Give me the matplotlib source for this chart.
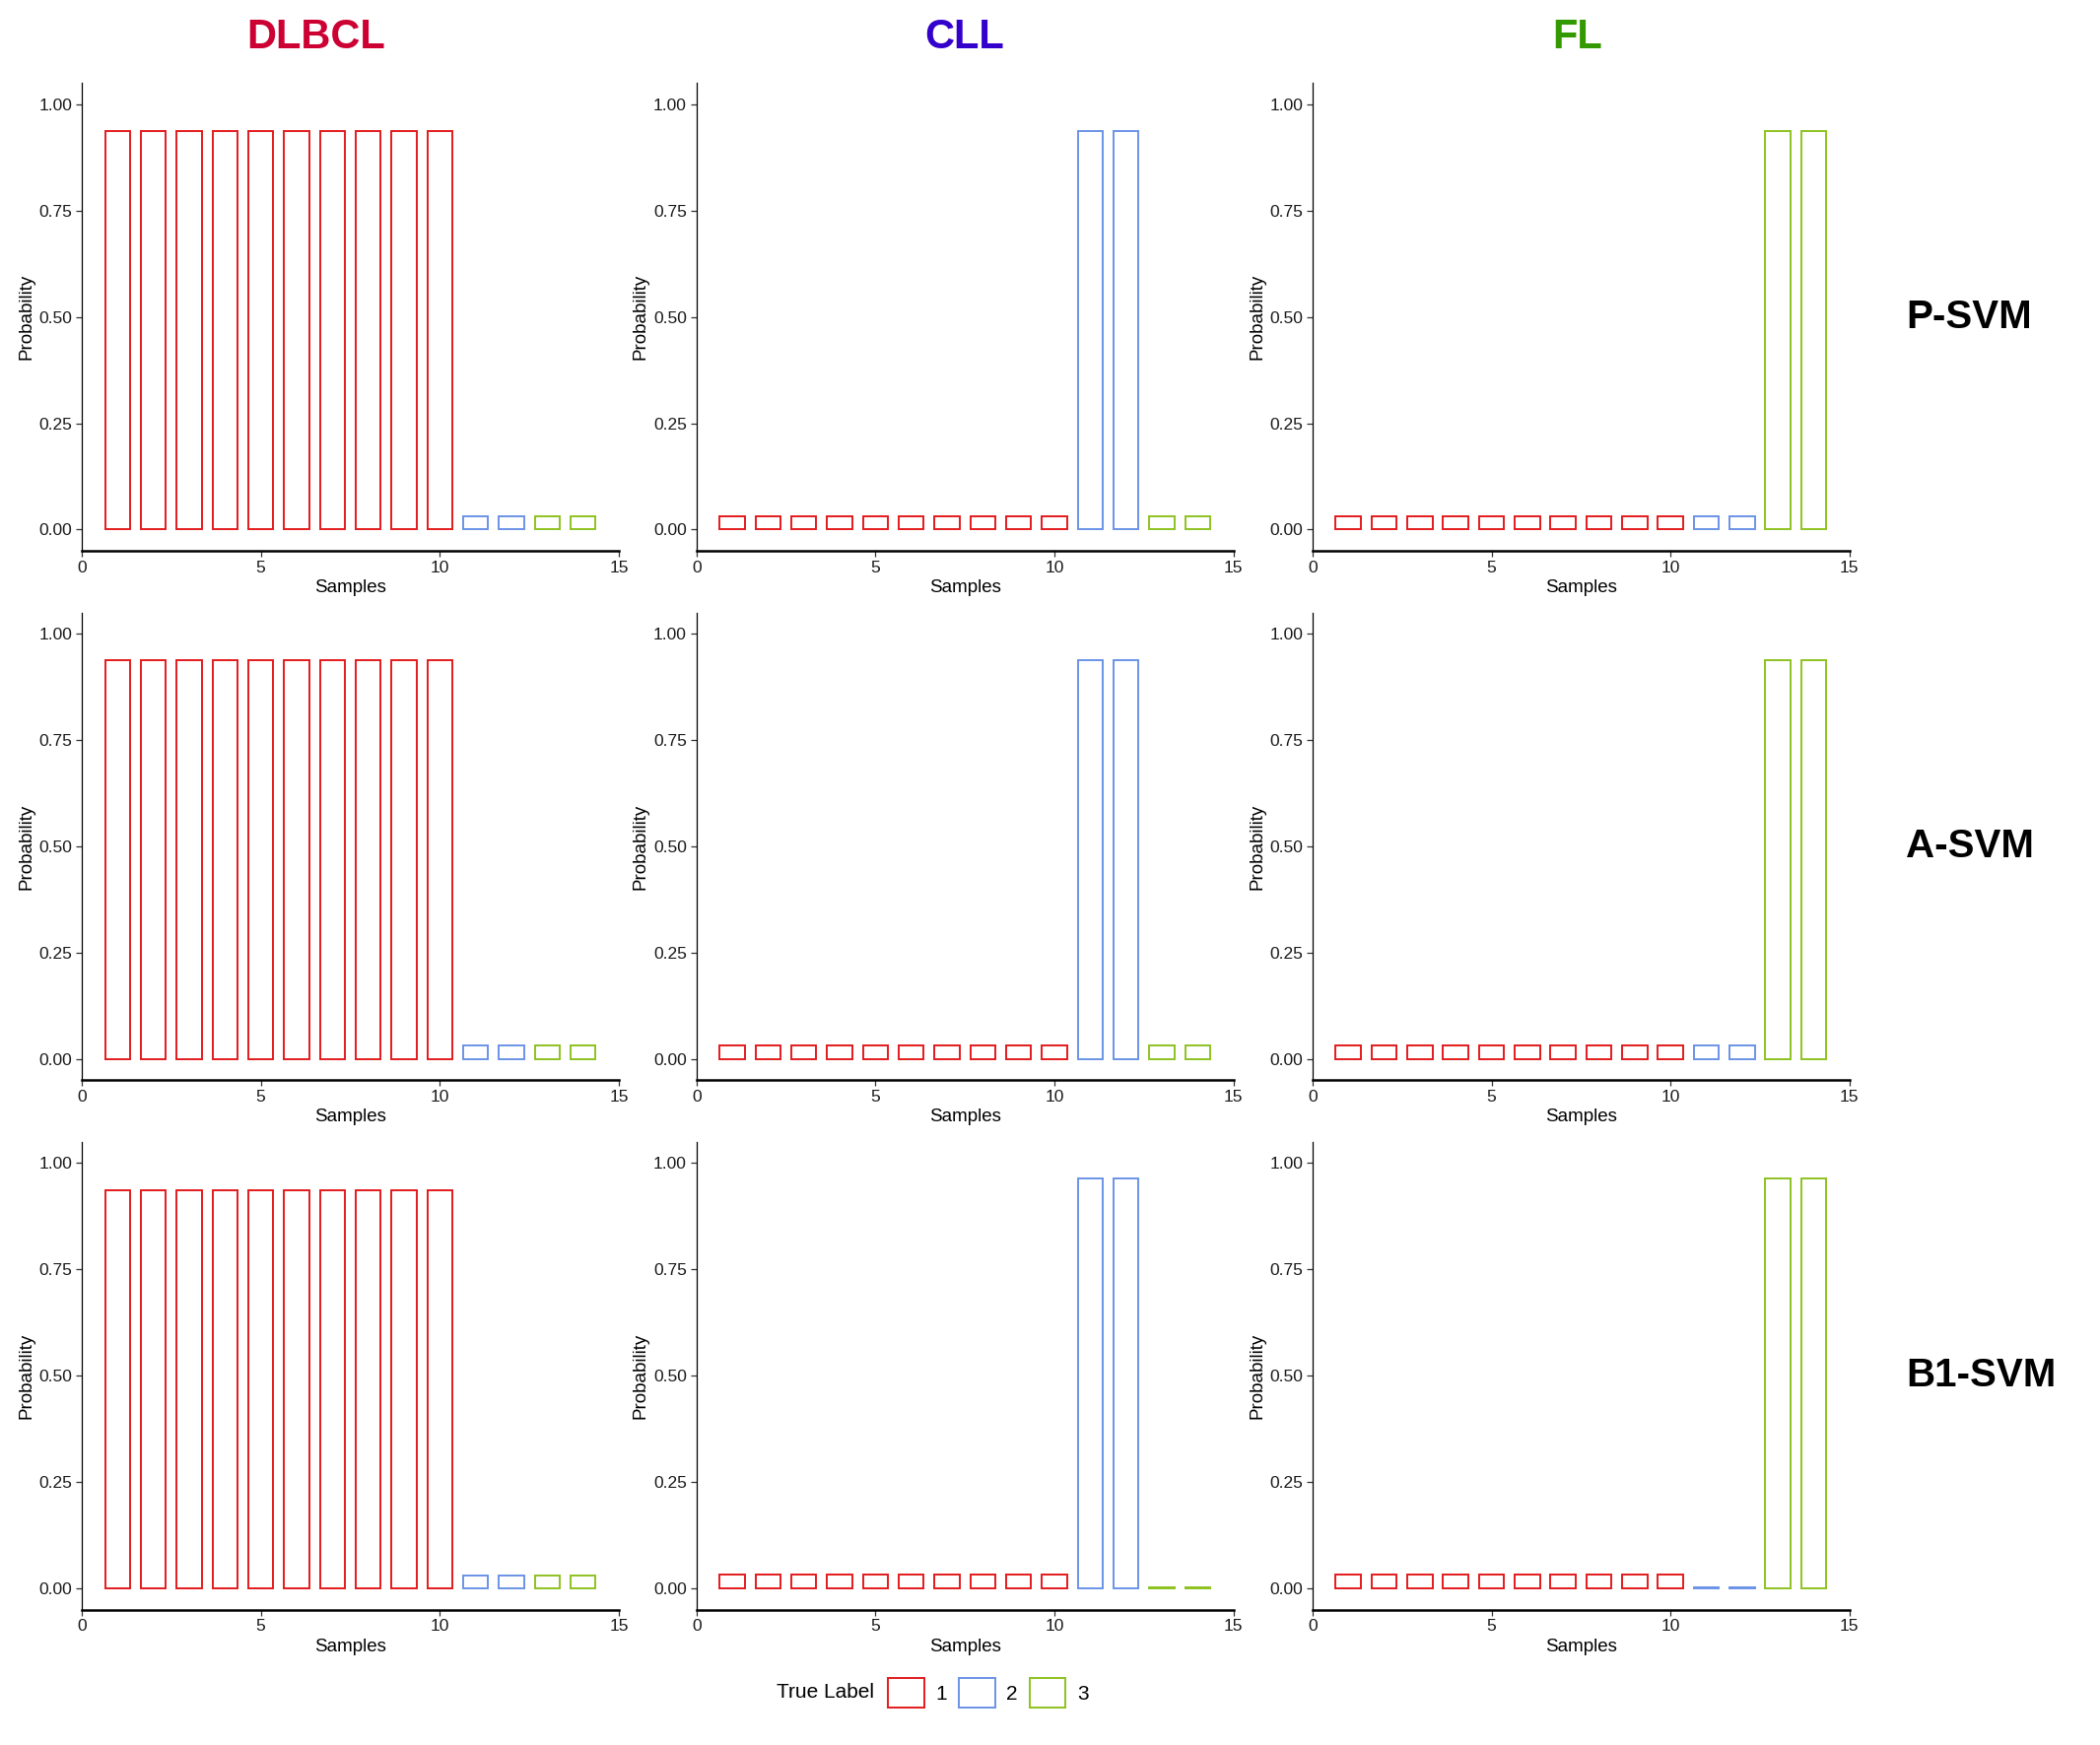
import matplotlib
matplotlib.use("Agg")
import matplotlib.pyplot as plt
from matplotlib.patches import Patch

plt.rcParams['font.family'] = ['Liberation Sans', 'DejaVu Sans']

# ---- data ----
samples = [1, 2, 3, 4, 5, 6, 7, 8, 9, 10, 11, 12, 13, 14]
true_label = [1, 1, 1, 1, 1, 1, 1, 1, 1, 1, 2, 2, 3, 3]
classes = ["DLBCL", "CLL", "FL"]
methods = ["P-SVM", "A-SVM", "B1-SVM"]

psvm_dlbcl = [0.937, 0.937, 0.937, 0.937, 0.937, 0.937, 0.937, 0.937, 0.937, 0.937, 0.031, 0.031, 0.031, 0.031]
psvm_cll = [0.031, 0.031, 0.031, 0.031, 0.031, 0.031, 0.031, 0.031, 0.031, 0.031, 0.937, 0.937, 0.031, 0.031]
psvm_fl = [0.031, 0.031, 0.031, 0.031, 0.031, 0.031, 0.031, 0.031, 0.031, 0.031, 0.031, 0.031, 0.937, 0.937]

asvm_dlbcl = [0.937, 0.937, 0.937, 0.937, 0.937, 0.937, 0.937, 0.937, 0.937, 0.937, 0.031, 0.031, 0.031, 0.031]
asvm_cll = [0.031, 0.031, 0.031, 0.031, 0.031, 0.031, 0.031, 0.031, 0.031, 0.031, 0.937, 0.937, 0.031, 0.031]
asvm_fl = [0.031, 0.031, 0.031, 0.031, 0.031, 0.031, 0.031, 0.031, 0.031, 0.031, 0.031, 0.031, 0.937, 0.937]

b1svm_dlbcl = [0.937, 0.937, 0.937, 0.937, 0.937, 0.937, 0.937, 0.937, 0.937, 0.937, 0.031, 0.031, 0.031, 0.031]
b1svm_cll = [0.032, 0.032, 0.032, 0.032, 0.032, 0.032, 0.032, 0.032, 0.032, 0.032, 0.965, 0.965, 0.002, 0.002]
b1svm_fl = [0.032, 0.032, 0.032, 0.032, 0.032, 0.032, 0.032, 0.032, 0.032, 0.032, 0.002, 0.002, 0.965, 0.965]

grid = [[psvm_dlbcl, psvm_cll, psvm_fl],
        [asvm_dlbcl, asvm_cll, asvm_fl],
        [b1svm_dlbcl, b1svm_cll, b1svm_fl]]

x_ticks = [0, 5, 10, 15]
y_ticks = [0.0, 0.25, 0.5, 0.75, 1.0]
y_ticklabels = ["0.00", "0.25", "0.50", "0.75", "1.00"]
legend_labels = ["1", "2", "3"]

# ---- styles ----
label_colors = {1: "#E31A1C", 2: "#6A93E6", 3: "#8DC21F"}
title_colors = ["#CC0033", "#3300CC", "#339900"]

W, H = 1568.0, 1302.0
fig = plt.figure(figsize=(21.31, 17.71), dpi=100)

col_left = [61, 520, 980]
row_top = [62, 457, 852]
ax_w, ax_h = 401, 349

for r in range(3):
    for c in range(3):
        left = col_left[c] / W
        bottom = 1 - (row_top[r] + ax_h) / H
        ax = fig.add_axes([left, bottom, ax_w / W, ax_h / H])
        vals = grid[r][c]
        edge = [label_colors[t] for t in true_label]
        ax.bar(samples, vals, width=0.7, facecolor="white", edgecolor=edge, linewidth=1.4)
        ax.set_xlim(0, 15)
        ax.set_ylim(-0.05, 1.05)
        ax.set_xticks(x_ticks)
        ax.set_yticks(y_ticks)
        ax.set_yticklabels(y_ticklabels)
        ax.spines['top'].set_visible(False)
        ax.spines['right'].set_visible(False)
        ax.spines['left'].set_linewidth(0.9)
        ax.spines['bottom'].set_linewidth(1.8)
        ax.tick_params(axis='both', direction='out', length=4, width=0.9,
                       color="#333333", labelsize=12.5, labelcolor="#1a1a1a", pad=3)
        ax.set_xlabel("Samples", fontsize=13.5, labelpad=3)
        ax.set_ylabel("Probability", fontsize=13.5, labelpad=3)

for c, (name, col) in enumerate(zip(classes, title_colors)):
    xc = [236, 720, 1178][c] / W
    fig.text(xc, 1 - 28 / H, name, color=col, fontsize=30, fontweight='bold',
             ha='center', va='center')

for r, m in enumerate(methods):
    yc = 1 - (row_top[r] + ax_h / 2) / H
    fig.text(1423 / W, yc, m, color="black", fontsize=29, fontweight='bold',
             ha='left', va='center')

# legend
fig.text(580 / W, 1 - 1263 / H, "True Label", fontsize=15, ha='left', va='center')
handles = [Patch(facecolor="white", edgecolor=label_colors[k], linewidth=1.4) for k in [1, 2, 3]]
fig.legend(handles, legend_labels, loc='center left', bbox_to_anchor=(663 / W, 1 - 1263 / H),
           ncol=3, frameon=False, fontsize=15, handlelength=1.75, handleheight=1.85,
           handletextpad=0.55, columnspacing=0.6, borderpad=0, borderaxespad=0)

fig.savefig("out.png", dpi=100, facecolor="white")
